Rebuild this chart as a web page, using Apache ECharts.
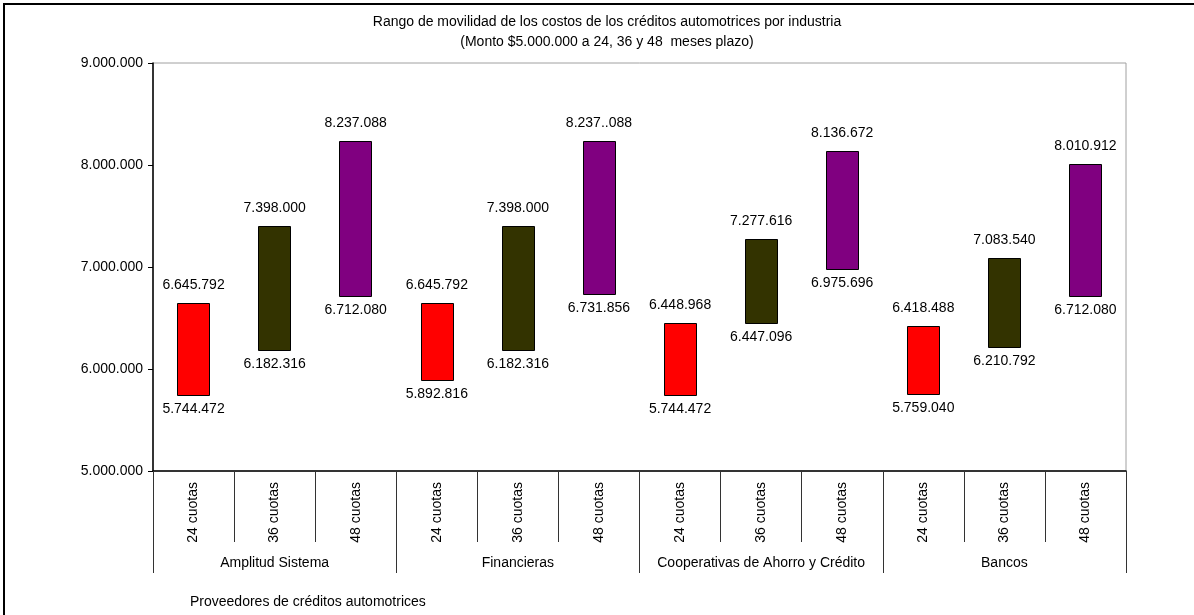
<!DOCTYPE html>
<html><head><meta charset="utf-8">
<script src="https://cdn.jsdelivr.net/npm/echarts@6/dist/echarts.min.js"></script>
<style>html,body{margin:0;padding:0;background:#fff}#c{width:1194px;height:615px}</style>
</head><body><div id="c"></div>
<script>
const titleLines = ['Rango de movilidad de los costos de los créditos automotrices por industria', '(Monto $5.000.000 a 24, 36 y 48  meses plazo)'];
const groups = ['Amplitud Sistema', 'Financieras', 'Cooperativas de Ahorro y Crédito', 'Bancos'];
const terms = ['24 cuotas', '36 cuotas', '48 cuotas'];
const lowValues = [5744472, 6182316, 6712080, 5892816, 6182316, 6731856, 5744472, 6447096, 6975696, 5759040, 6210792, 6712080];
const highValues = [6645792, 7398000, 8237088, 6645792, 7398000, 8237088, 6448968, 7277616, 8136672, 6418488, 7083540, 8010912];
const highLabels = ['6.645.792', '7.398.000', '8.237.088', '6.645.792', '7.398.000', '8.237..088', '6.448.968', '7.277.616', '8.136.672', '6.418.488', '7.083.540', '8.010.912'];
const lowLabels = ['5.744.472', '6.182.316', '6.712.080', '5.892.816', '6.182.316', '6.731.856', '5.744.472', '6.447.096', '6.975.696', '5.759.040', '6.210.792', '6.712.080'];
const yTicks = [5000000, 6000000, 7000000, 8000000, 9000000];
const axisName = 'Proveedores de créditos automotrices';
const termColors = ['#FF0000', '#333300', '#800080'];

const FONT = '"Liberation Sans", Arial, sans-serif';
const categories = [];
groups.forEach(() => terms.forEach(t => categories.push(t)));
const data = lowValues.map((lo, i) => [i, lo, highValues[i]]);
const fmt = v => String(v).replace(/\B(?=(\d{3})+(?!\d))/g, '.');

const chart = echarts.init(document.getElementById('c'), null, {renderer: 'canvas'});
chart.setOption({
  animation: false,
  backgroundColor: '#fff',
  grid: {left: 153, right: 68, top: 63, bottom: 144, show: true, borderColor: '#a0a0a0', borderWidth: 1},
  graphic: [
    {type: 'rect', shape: {x: 4, y: 4, width: 1400, height: 900}, style: {fill: 'none', stroke: '#000', lineWidth: 2}, silent: true},
    {type: 'text', x: 607, y: 22, style: {text: titleLines[0], font: '14px ' + FONT, fill: '#000', textAlign: 'center', textVerticalAlign: 'middle'}},
    {type: 'text', x: 607, y: 42, style: {text: titleLines[1], font: '14px ' + FONT, fill: '#000', textAlign: 'center', textVerticalAlign: 'middle'}},
    {type: 'text', x: 190, y: 602, style: {text: axisName, font: '14px ' + FONT, fill: '#000', textAlign: 'left', textVerticalAlign: 'middle'}}
  ],
  xAxis: [
    {type: 'category', data: categories, position: 'bottom', boundaryGap: true,
     axisLine: {show: true, lineStyle: {color: '#000', width: 1.5}},
     axisTick: {show: true, interval: 0, length: 71, lineStyle: {color: '#333', width: 1}},
     axisLabel: {interval: 0, rotate: 90, margin: 11, fontSize: 14, color: '#000', fontFamily: FONT},
     splitLine: {show: false}},
    {type: 'category', data: groups, position: 'bottom', boundaryGap: true,
     axisLine: {show: false},
     axisTick: {show: true, interval: 0, length: 102, lineStyle: {color: '#333', width: 1}},
     axisLabel: {interval: 0, margin: 85, fontSize: 14, color: '#000', fontFamily: FONT},
     splitLine: {show: false}}
  ],
  yAxis: {type: 'value', min: yTicks[0], max: yTicks[yTicks.length - 1], interval: 1000000,
    axisLine: {show: true, lineStyle: {color: '#000', width: 1.5}},
    axisTick: {show: true, length: 5, lineStyle: {color: '#000'}},
    axisLabel: {formatter: v => fmt(v), fontSize: 14, color: '#000', fontFamily: FONT, margin: 10},
    splitLine: {show: false}},
  series: [{
    type: 'custom',
    xAxisIndex: 0,
    data: data,
    renderItem: function (params, api) {
      const i = api.value(0);
      const top = api.coord([i, api.value(2)]);
      const bot = api.coord([i, api.value(1)]);
      const w = api.size([1, 0])[0] * 0.4;
      const x = Math.round(top[0] - w / 2) + 0.5;
      const y1 = Math.round(top[1]) + 0.5;
      const y2 = Math.round(bot[1]) + 0.5;
      return {type: 'group', children: [
        {type: 'rect', shape: {x: x, y: y1, width: Math.round(w), height: y2 - y1},
         style: {fill: termColors[i % 3], stroke: '#000', lineWidth: 1}},
        {type: 'text', x: top[0], y: y1 - 11, style: {text: highLabels[i], font: '14px ' + FONT, fill: '#000', textAlign: 'center', textVerticalAlign: 'bottom'}},
        {type: 'text', x: top[0], y: y2 + 7, style: {text: lowLabels[i], font: '14px ' + FONT, fill: '#000', textAlign: 'center', textVerticalAlign: 'top'}}
      ]};
    }
  }]
});
</script></body></html>
